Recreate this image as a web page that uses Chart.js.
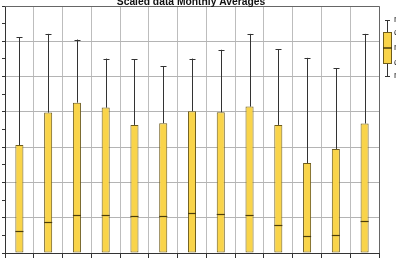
<!DOCTYPE html>
<html>
<head>
<meta charset="utf-8">
<script src="https://cdn.jsdelivr.net/npm/chart.js@4.4.0/dist/chart.umd.min.js"></script>
<style>
  html, body { margin: 0; padding: 0; background: #fff; }
  #wrap { width: 396px; height: 258px; }
</style>
</head>
<body>
<div id="wrap"><canvas id="box-chart"></canvas></div>
<script>
// Box plot data
var categories = ["1", "2", "3", "4", "5", "6", "7", "8", "9", "10", "11", "12", "13"];
var minValues    = [0, 0, 0, 0, 0, 0, 0, 0, 0, 0, 0, 0, 0];
var q1Values     = [0, 0, 0, 0, 0, 0, 0, 0, 0, 0, 0, 0, 0];
var medianValues = [0.62, 0.88, 1.08, 1.08, 1.05, 1.05, 1.13, 1.10, 1.08, 0.80, 0.47, 0.51, 0.91];
var q3Values     = [3.06, 3.98, 4.26, 4.12, 3.63, 3.68, 4.02, 3.99, 4.15, 3.63, 2.55, 2.95, 3.67];
var maxValues    = [6.11, 6.21, 6.05, 5.51, 5.49, 5.29, 5.51, 5.76, 6.21, 5.78, 5.53, 5.24, 6.21];
var legendLabels = ["max", "q3", "median", "q1", "min"];
var chartTitle = "Scaled data Monthly Averages";

var boxFill = '#f9d44a';
var boxEdge = '#6e5c1c';
var lineColor = '#333333';

// whiskers, caps and median lines on top of the bars
var boxPlotPlugin = {
    id: 'boxPlot',
    afterDatasetsDraw: function(chart) {
        var ctx = chart.ctx;
        var y = chart.scales.y;
        var meta = chart.getDatasetMeta(0);
        ctx.save();
        meta.data.forEach(function(bar, i) {
            var x = Math.round(bar.x) + 0.5;
            var half = bar.width / 2;
            ctx.lineWidth = 1;
            ctx.strokeStyle = lineColor;
            ctx.beginPath();
            ctx.moveTo(x, y.getPixelForValue(q3Values[i]));
            ctx.lineTo(x, y.getPixelForValue(maxValues[i]));
            ctx.moveTo(x, y.getPixelForValue(q1Values[i]));
            ctx.lineTo(x, y.getPixelForValue(minValues[i]));
            var top = Math.round(y.getPixelForValue(maxValues[i])) + 0.5;
            ctx.moveTo(x - 3, top);
            ctx.lineTo(x + 3, top);
            ctx.stroke();
            var med = Math.round(y.getPixelForValue(medianValues[i])) + 0.5;
            ctx.strokeStyle = '#4a3c0c';
            ctx.lineWidth = 1.2;
            ctx.beginPath();
            ctx.moveTo(bar.x - half, med);
            ctx.lineTo(bar.x + half, med);
            ctx.stroke();
        });
        ctx.restore();
    },
    beforeDatasetsDraw: function(chart) {
        // frame on top and right side
        var a = chart.chartArea;
        var ctx = chart.ctx;
        ctx.save();
        ctx.strokeStyle = '#666666';
        ctx.lineWidth = 1;
        ctx.beginPath();
        ctx.moveTo(a.left, Math.round(a.top) + 0.5);
        ctx.lineTo(Math.round(a.right) + 0.5, Math.round(a.top) + 0.5);
        ctx.lineTo(Math.round(a.right) + 0.5, a.bottom);
        ctx.stroke();
        ctx.restore();
    },
    afterDraw: function(chart) {
        var ctx = chart.ctx;
        var a = chart.chartArea;
        ctx.save();
        // title, partly cut off at the top
        ctx.fillStyle = '#111';
        ctx.font = 'bold 10.3px "Liberation Sans", Arial, sans-serif';
        ctx.textAlign = 'center';
        ctx.textBaseline = 'alphabetic';
        ctx.fillText(chartTitle, (a.left + a.right) / 2 - 1, 5);

        // legend glyph
        var lx = 387;
        ctx.strokeStyle = lineColor;
        ctx.lineWidth = 1;
        ctx.beginPath();
        ctx.moveTo(lx + 0.5, 20.5); ctx.lineTo(lx + 0.5, 76.5);
        ctx.moveTo(lx - 2, 20.5); ctx.lineTo(lx + 3, 20.5);
        ctx.moveTo(lx - 2, 76.5); ctx.lineTo(lx + 3, 76.5);
        ctx.stroke();
        ctx.fillStyle = boxFill;
        ctx.fillRect(383, 32, 8, 31);
        ctx.strokeStyle = boxEdge;
        ctx.strokeRect(383.5, 32.5, 8, 31);
        ctx.strokeStyle = '#4a3c0c';
        ctx.lineWidth = 1.5;
        ctx.beginPath();
        ctx.moveTo(383, 48); ctx.lineTo(392, 48);
        ctx.stroke();
        ctx.fillStyle = '#222';
        ctx.font = '9px "Liberation Sans", Arial, sans-serif';
        ctx.textAlign = 'left';
        ctx.textBaseline = 'middle';
        var ly = [20, 33, 48, 63, 76];
        legendLabels.forEach(function(t, i) {
            ctx.fillText(t, 394, ly[i]);
        });
        ctx.restore();
    }
};

var ctx = document.getElementById('box-chart');

var chartData = {
    labels: categories,
    datasets: [{
        label: 'box',
        data: categories.map(function(c, i) { return [q1Values[i], q3Values[i]]; }),
        backgroundColor: boxFill,
        borderColor: boxEdge,
        borderWidth: 1,
        borderSkipped: false,
        barPercentage: 0.28,
        categoryPercentage: 1.0
    }]
};

var chartOptions = {
    responsive: true,
    maintainAspectRatio: false,
    animation: false,
    layout: { padding: { left: 2, right: 17, top: 6, bottom: 0 } },
    plugins: {
        legend: { display: false },
        title: { display: false },
        tooltip: { enabled: false }
    },
    scales: {
        x: {
            grid: {
                color: '#bdbdbd',
                tickColor: '#333',
                tickLength: 5,
                offset: true
            },
            border: { color: '#333', width: 1 },
            ticks: { display: false }
        },
        y: {
            min: 0,
            max: 7,
            grid: {
                color: function(c) {
                    return (c.tick && c.tick.value % 1 === 0) ? '#b4b4b4' : 'rgba(0,0,0,0)';
                },
                tickColor: '#333',
                tickLength: 3
            },
            border: { color: '#333', width: 1 },
            ticks: { display: false, stepSize: 0.5 }
        }
    }
};

var boxChart = new Chart(ctx, {
    type: 'bar',
    data: chartData,
    options: chartOptions,
    plugins: [boxPlotPlugin]
});
</script>
</body>
</html>
